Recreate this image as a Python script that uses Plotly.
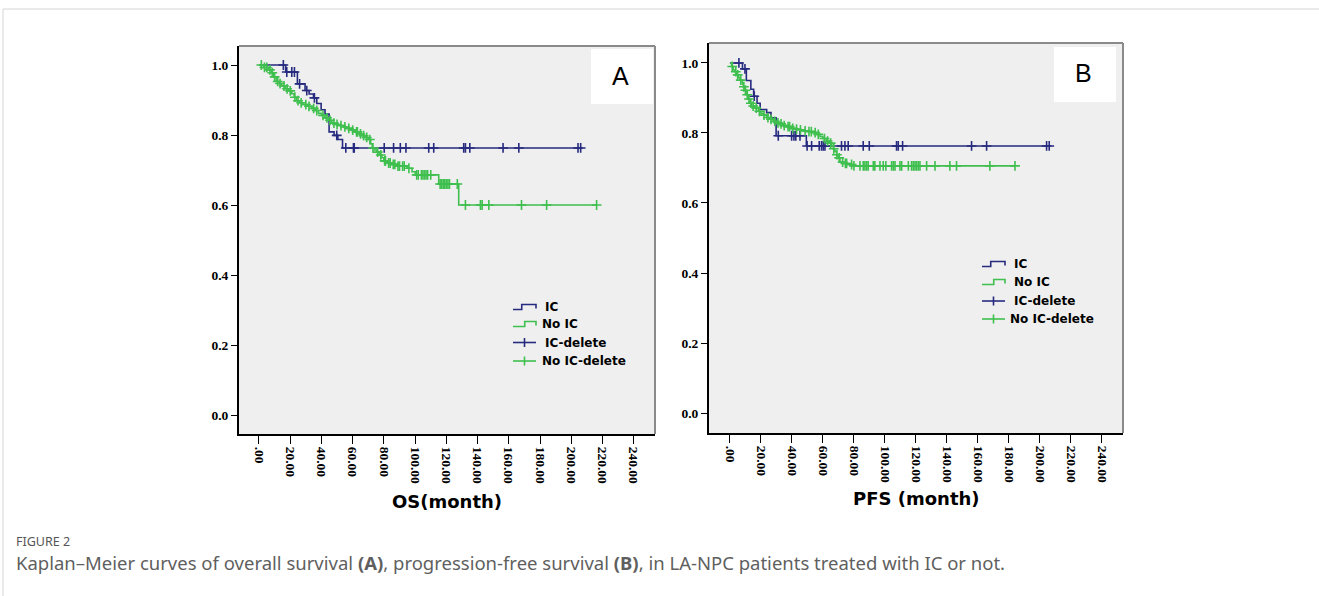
import plotly.graph_objects as go

W, H = 1319, 596

# ---------------- data ----------------
x_ticks = [0, 20, 40, 60, 80, 100, 120, 140, 160, 180, 200, 220, 240]
x_tick_labels = [".00", "20.00", "40.00", "60.00", "80.00", "100.00", "120.00",
                 "140.00", "160.00", "180.00", "200.00", "220.00", "240.00"]
y_ticks = [0.0, 0.2, 0.4, 0.6, 0.8, 1.0]
y_tick_labels = ["0.0", "0.2", "0.4", "0.6", "0.8", "1.0"]

# Panel A : OS
os_ic_time = [17.1, 24.6, 29.5, 32.1, 34.9, 37.0, 39.8, 42.3, 44.9, 48.1, 50.5, 53.5]
os_ic_surv = [0.980, 0.946, 0.927, 0.917, 0.906, 0.890, 0.872, 0.860, 0.809, 0.799, 0.787, 0.763]
os_ic_cens = [15.6, 17.8, 21.0, 22.7, 26.0, 30.6, 35.5, 49.8, 55.6, 60.5, 61.0, 80.2, 86.2,
              90.5, 94.1, 108.7, 111.9, 131.1, 132.2, 135.0, 156.3, 166.4, 204.3, 206.0]

os_noic_time = [3, 6, 8, 9.5, 11, 13, 14.5, 17, 19, 21, 22.5, 24, 26, 28, 31, 33.8, 36, 38.1,
                40, 42.3, 44.5, 46.6, 49, 51, 54, 56.2, 59, 61.6, 64, 66, 68, 70, 71.5, 72.5,
                74, 75.5, 77, 78.7, 80, 82, 85, 88.3, 94.7, 98, 100.1, 115.1, 127.9]
os_noic_surv = [0.993, 0.986, 0.978, 0.966, 0.953, 0.947, 0.940, 0.932, 0.926, 0.918, 0.908,
                0.898, 0.892, 0.887, 0.882, 0.876, 0.870, 0.862, 0.856, 0.849, 0.842, 0.834,
                0.830, 0.827, 0.823, 0.819, 0.814, 0.809, 0.803, 0.798, 0.793, 0.787, 0.775,
                0.763, 0.757, 0.751, 0.743, 0.735, 0.726, 0.720, 0.716, 0.711, 0.705, 0.695,
                0.686, 0.660, 0.600]
os_noic_cens = [1.5, 3.5, 5, 7, 8.5, 10, 12, 13.5, 16, 18, 20, 23, 25, 27, 30, 32, 35, 37, 41,
                43.5, 45.5, 48, 50, 52.5, 55, 57.5, 60, 62.5, 63, 65, 67, 69, 71, 73, 76, 78,
                80.5, 81, 83, 84, 86, 87, 89, 90, 92, 93, 96, 101, 102, 104, 105, 106, 107,
                108, 110, 116, 117, 118, 119, 120, 121, 122, 127, 132.2, 141.8, 142.9, 147.2,
                168.1, 184.2, 216.2]

# Panel B : PFS
pfs_ic_time = [8.1, 10.6, 13.5, 15.3, 17.5, 19.5, 23.7, 26.5, 29.8, 49.3]
pfs_ic_surv = [0.983, 0.950, 0.925, 0.905, 0.885, 0.867, 0.858, 0.843, 0.792, 0.763]
pfs_ic_cens = [5.8, 9.7, 15.7, 31.2, 39.8, 41.3, 42.5, 45.2, 49.8, 52.7, 57.6, 59.1, 60.2,
               61.3, 72.0, 74.2, 76.3, 86.0, 89.9, 107.5, 108.6, 111.4, 155.9, 165.6, 204.3, 206.0]

pfs_noic_time = [1.1, 2.2, 3.2, 4.3, 5.5, 6.5, 8.0, 8.6, 9.7, 10.8, 11.8, 12.9, 14.0, 16.0,
                 18.3, 20.0, 21.5, 23.7, 25.5, 28.0, 30.0, 32.3, 34.4, 36.6, 39.8, 41.9, 44.0,
                 47.3, 50.0, 53.8, 56.0, 58.1, 60.0, 62.4, 64.0, 65.6, 66.7, 67.7, 68.8, 69.9,
                 71.0, 73.0, 76.0, 79.6]
pfs_noic_surv = [0.990, 0.980, 0.975, 0.966, 0.958, 0.951, 0.940, 0.932, 0.922, 0.909, 0.897,
                 0.885, 0.877, 0.871, 0.862, 0.856, 0.851, 0.844, 0.839, 0.833, 0.829, 0.826,
                 0.821, 0.818, 0.813, 0.811, 0.809, 0.806, 0.804, 0.801, 0.796, 0.790, 0.784,
                 0.777, 0.771, 0.764, 0.755, 0.747, 0.738, 0.729, 0.717, 0.713, 0.710, 0.706]
pfs_noic_cens = [1.5, 3.8, 5, 7, 9, 10, 11.2, 12.3, 13.5, 15, 17, 19, 22, 24.5, 26.5, 29, 31,
                 33, 35, 37.5, 38.5, 40.5, 43, 45.5, 48.5, 51, 52.5, 55, 57, 61, 63, 65, 67, 69,
                 70.5, 72.7, 74.5, 75.3, 78.5, 80.0, 83.9, 86.0, 87.1, 88.2, 89.2, 92.5, 93.5,
                 96.8, 98.9, 100.6, 104.3, 105.4, 106.5, 109.7, 110.8, 115.1, 117.2, 118.3,
                 119.4, 120.4, 121.5, 122.6, 126.9, 132.3, 141.9, 146.2, 167.7, 183.9]

series_names = ["IC", "No IC", "IC-delete", "No IC-delete"]
panel_letters = ["A", "B"]
axis_titles = ["OS(month)", "PFS (month)"]
caption_head = "FIGURE 2"
caption_text = ("Kaplan\u2013Meier curves of overall survival <b>(A)</b>, progression-free "
                "survival <b>(B)</b>, in LA-NPC patients treated with IC or not.")

# ---------------- style ----------------
NAVY = "#272b7f"
GREEN = "#3fbf4e"
BG = "#efefef"


def px(x):
    return x / W


def py(y):
    return 1 - y / H


def surv_at(t, times, survs):
    s = 1.0
    for ti, si in zip(times, survs):
        if ti <= t:
            s = si
    return s


fig = go.Figure()


def add_km(times, survs, cens, color, xa, ya):
    end = max(cens[-1], times[-1])
    xs = [0] + list(times) + [end]
    ys = [1.0] + list(survs) + [survs[-1]]
    fig.add_trace(go.Scatter(x=xs, y=ys, mode="lines", line=dict(color=color, width=1.6, shape="hv"),
                             xaxis=xa, yaxis=ya, showlegend=False, hoverinfo="skip"))
    cy = [surv_at(c, times, survs) for c in cens]
    fig.add_trace(go.Scatter(x=cens, y=cy, mode="markers",
                             marker=dict(symbol="cross-thin", size=7, line=dict(color=color, width=1.6)),
                             xaxis=xa, yaxis=ya, showlegend=False, hoverinfo="skip"))


add_km(os_ic_time, os_ic_surv, os_ic_cens, NAVY, "x", "y")
add_km(os_noic_time, os_noic_surv, os_noic_cens, GREEN, "x", "y")
add_km(pfs_ic_time, pfs_ic_surv, pfs_ic_cens, NAVY, "x2", "y2")
add_km(pfs_noic_time, pfs_noic_surv, pfs_noic_cens, GREEN, "x2", "y2")

tickfont = dict(family="Liberation Serif", size=13.5, color="black", weight="bold")


def xaxis_cfg(dom, rng, anchor):
    return dict(domain=dom, range=rng, anchor=anchor, tickvals=x_ticks, ticktext=x_tick_labels,
                tickangle=90, ticks="outside", ticklen=8, tickwidth=1.3, tickcolor="black",
                showline=True, linecolor="black", linewidth=2, showgrid=False, zeroline=False,
                tickfont=tickfont, fixedrange=True)


def yaxis_cfg(dom, rng, anchor):
    return dict(domain=dom, range=rng, anchor=anchor, tickvals=y_ticks, ticktext=y_tick_labels,
                ticks="outside", ticklen=6, tickwidth=1.3, tickcolor="black",
                showline=True, linecolor="black", linewidth=2, showgrid=False, zeroline=False,
                tickfont=tickfont, fixedrange=True)


A_L, A_R, A_T, A_B = 239, 655, 46, 434
B_L, B_R, B_T, B_B = 709, 1123, 43, 433

fig.update_layout(
    width=W, height=H, margin=dict(l=0, r=0, t=0, b=0),
    paper_bgcolor="white", plot_bgcolor=BG, showlegend=False,
    xaxis=xaxis_cfg([px(A_L), px(A_R)], [-12.8, 253.6], "y"),
    yaxis=yaxis_cfg([py(A_B), py(A_T)], [-0.0543, 1.0543], "x"),
    xaxis2=xaxis_cfg([px(B_L), px(B_R)], [-13.5, 253.6], "y2"),
    yaxis2=yaxis_cfg([py(B_B), py(B_T)], [-0.057, 1.057], "x2"),
)

shapes = []
annotations = []

# top / right frame lines (gray)
for xr, yr in (("x", "y"), ("x2", "y2")):
    shapes.append(dict(type="line", xref=f"{xr} domain", yref=f"{yr} domain", x0=0, x1=1, y0=1, y1=1,
                       line=dict(color="#8a8a8a", width=2)))
    shapes.append(dict(type="line", xref=f"{xr} domain", yref=f"{yr} domain", x0=1, x1=1, y0=0, y1=1,
                       line=dict(color="#8a8a8a", width=2)))

# page border
shapes.append(dict(type="line", xref="paper", yref="paper", x0=px(3), x1=1, y0=py(9), y1=py(9),
                   line=dict(color="#d4d4d4", width=1)))
shapes.append(dict(type="line", xref="paper", yref="paper", x0=px(3), x1=px(3), y0=py(9), y1=0,
                   line=dict(color="#d4d4d4", width=1)))

# panel letter boxes
for (x0, y0, x1, y1), letter in zip([(591, 49, 653, 104), (1054, 47, 1116, 102)], panel_letters):
    shapes.append(dict(type="rect", xref="paper", yref="paper", x0=px(x0), x1=px(x1), y0=py(y1), y1=py(y0),
                       fillcolor="white", line=dict(width=0)))
    annotations.append(dict(x=px((x0 + x1) / 2 - 2), y=py((y0 + y1) / 2 - 1), xref="paper", yref="paper",
                            text=letter, showarrow=False, xanchor="center", yanchor="middle",
                            font=dict(family="Liberation Sans", size=25, color="black")))


def path(points):
    s = "M " + " L ".join(f"{px(a):.5f},{py(b):.5f}" for a, b in points)
    return s


def legend(x0, ys, text_x, step_w=23):
    colors = [NAVY, GREEN, NAVY, GREEN]
    x1 = x0 + step_w
    xm = x0 + step_w * 0.38
    for i, (yy, c) in enumerate(zip(ys, colors)):
        if i < 2:
            pts = [(x0, yy + 2.5), (xm + i * 3, yy + 2.5), (xm + i * 3, yy - 2.5), (x1, yy - 2.5), (x1, yy + 1.5)]
            shapes.append(dict(type="path", xref="paper", yref="paper", path=path(pts),
                               line=dict(color=c, width=1.6)))
        else:
            shapes.append(dict(type="line", xref="paper", yref="paper", x0=px(x0), x1=px(x1),
                               y0=py(yy), y1=py(yy), line=dict(color=c, width=1.6)))
            xc = (x0 + x1) / 2
            shapes.append(dict(type="line", xref="paper", yref="paper", x0=px(xc), x1=px(xc),
                               y0=py(yy - 4.5), y1=py(yy + 4.5), line=dict(color=c, width=1.6)))
    for yy, name, tx in zip(ys, series_names, text_x):
        annotations.append(dict(x=px(tx), y=py(yy), xref="paper", yref="paper", text=name,
                                showarrow=False, xanchor="left", yanchor="middle",
                                font=dict(family="DejaVu Sans", size=12, color="black", weight="bold")))


legend(513, [307, 324, 342.5, 361], [543, 540, 543, 540])
legend(982, [264, 282, 301, 319], [1012, 1012, 1012, 1008])

# axis titles
for xc, yc, t in [((A_L + A_R) / 2, 502, axis_titles[0]), ((B_L + B_R) / 2, 498, axis_titles[1])]:
    annotations.append(dict(x=px(xc), y=py(yc), xref="paper", yref="paper", text=t, showarrow=False,
                            xanchor="center", yanchor="middle",
                            font=dict(family="DejaVu Sans", size=18, color="black", weight="bold")))

# caption
annotations.append(dict(x=px(14), y=py(541), xref="paper", yref="paper", text=caption_head,
                        showarrow=False, xanchor="left", yanchor="middle",
                        font=dict(family="Noto Sans", size=12.5, color="#555555")))
annotations.append(dict(x=px(14), y=py(562), xref="paper", yref="paper", text=caption_text,
                        showarrow=False, xanchor="left", yanchor="middle",
                        font=dict(family="Noto Sans", size=18.5, color="#5f5f5f")))

fig.update_layout(shapes=shapes, annotations=annotations)
fig.write_html("out.html", config={"displayModeBar": False},
               post_script="document.body.style.margin='0';document.body.style.overflow='hidden';")
